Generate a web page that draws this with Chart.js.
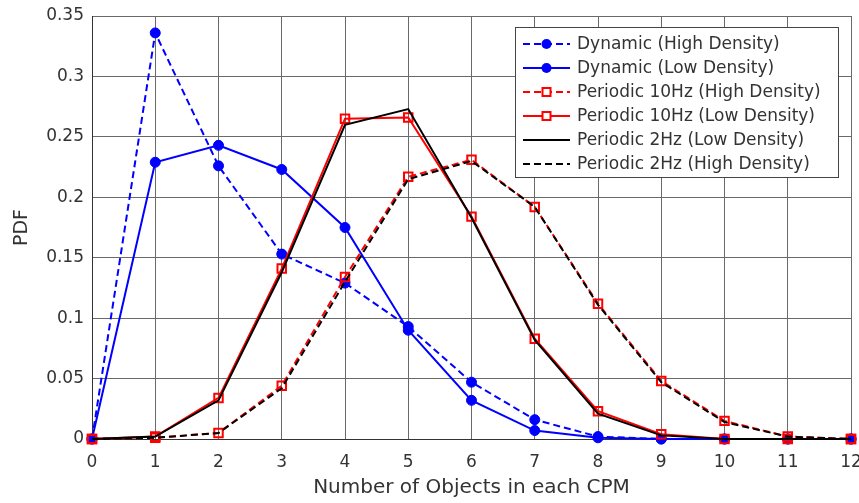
<!DOCTYPE html>
<html>
<head>
<meta charset="utf-8">
<script src="https://cdn.jsdelivr.net/npm/chart.js@4.4.1/dist/chart.umd.min.js"></script>
<style>
  body { margin: 0; background: #fff; }
</style>
</head>
<body>
<canvas id="pdfChart" width="859" height="503"></canvas>
<script>
// number of objects in each CPM (x axis)
const objects = ['0', '1', '2', '3', '4', '5', '6', '7', '8', '9', '10', '11', '12'];

// PDF values
const dynamicHigh = [0, 0.336, 0.226, 0.153, 0.129, 0.093, 0.047, 0.016, 0.002, 0, 0, 0, 0];
const dynamicLow = [0, 0.229, 0.243, 0.223, 0.175, 0.090, 0.032, 0.007, 0.001, 0, 0, 0, 0];
const periodic10High = [0, 0.001, 0.005, 0.044, 0.134, 0.217, 0.231, 0.192, 0.112, 0.048, 0.015, 0.002, 0];
const periodic10Low = [0, 0.002, 0.034, 0.141, 0.265, 0.266, 0.184, 0.083, 0.023, 0.004, 0, 0, 0];
const periodic2Low = [0, 0.002, 0.032, 0.138, 0.260, 0.273, 0.183, 0.082, 0.021, 0.003, 0, 0, 0];
const periodic2High = [0, 0.001, 0.005, 0.042, 0.130, 0.215, 0.230, 0.192, 0.111, 0.047, 0.014, 0.002, 0];

const yTickLabels = ['0', '0.05', '0.1', '0.15', '0.2', '0.25', '0.3', '0.35'];
const seriesNames = [
  'Dynamic (High Density)',
  'Dynamic (Low Density)',
  'Periodic 10Hz (High Density)',
  'Periodic 10Hz (Low Density)',
  'Periodic 2Hz (Low Density)',
  'Periodic 2Hz (High Density)'
];

const FONT = 'DejaVu Sans';
const TEXT = '#333333';
const DASH = [7, 4];

function series(i, values, color, dashed, marker) {
  const ds = {
    label: seriesNames[i],
    data: values,
    borderColor: color,
    borderWidth: 2,
    borderDash: dashed ? DASH : [],
    tension: 0,
    clip: false,
    order: 10 - i, // later series drawn on top, like the original
    pointRadius: 0,
    pointHoverRadius: 0
  };
  if (marker === 'circle') {
    ds.pointStyle = 'circle';
    ds.pointRadius = 5;
    ds.pointBackgroundColor = color;
    ds.pointBorderColor = color;
    ds.pointBorderWidth = 1;
  } else if (marker === 'square') {
    ds.pointStyle = 'rect';
    ds.pointRadius = 6;
    ds.pointBackgroundColor = 'rgba(0,0,0,0)';
    ds.pointBorderColor = color;
    ds.pointBorderWidth = 2;
  }
  ds.marker = marker;
  return ds;
}

const datasets = [
  series(0, dynamicHigh, '#0000ff', true, 'circle'),
  series(1, dynamicLow, '#0000ff', false, 'circle'),
  series(2, periodic10High, '#ff0000', true, 'square'),
  series(3, periodic10Low, '#ff0000', false, 'square'),
  series(4, periodic2Low, '#000000', false, null),
  series(5, periodic2High, '#000000', true, null)
];

// matlab style legend box in the upper right corner
const boxLegend = {
  id: 'boxLegend',
  afterDraw(chart) {
    const ctx = chart.ctx;
    const x0 = 515, y0 = 27, w = 323, h = 150;
    ctx.save();
    ctx.fillStyle = '#ffffff';
    ctx.fillRect(x0, y0, w, h);
    ctx.strokeStyle = '#444444';
    ctx.lineWidth = 1;
    ctx.strokeRect(x0 + 0.5, y0 + 0.5, w, h);
    ctx.font = '17px "' + FONT + '"';
    ctx.textBaseline = 'middle';
    datasets.forEach((ds, i) => {
      const y = y0 + 17 + i * 24;
      ctx.strokeStyle = ds.borderColor;
      ctx.lineWidth = 2;
      ctx.setLineDash(ds.borderDash);
      ctx.beginPath();
      ctx.moveTo(523, y);
      ctx.lineTo(570, y);
      ctx.stroke();
      ctx.setLineDash([]);
      if (ds.marker) {
        ctx.fillStyle = ds.marker === 'circle' ? ds.borderColor : '#ffffff';
        ctx.strokeStyle = ds.borderColor;
        ctx.lineWidth = ds.pointBorderWidth;
        ctx.beginPath();
        if (ds.marker === 'circle') {
          ctx.arc(546.5, y, 5, 0, Math.PI * 2);
          ctx.fill();
        } else {
          ctx.rect(542.5, y - 4, 8, 8);
          ctx.fill();
          ctx.stroke();
        }
      }
      ctx.fillStyle = TEXT;
      ctx.fillText(ds.label, 577, y + 1);
    });
    ctx.restore();
  }
};

new Chart(document.getElementById('pdfChart').getContext('2d'), {
  type: 'line',
  data: { labels: objects, datasets: datasets },
  options: {
    responsive: false,
    animation: false,
    events: [],
    layout: { padding: { top: 16, right: 8, left: 0, bottom: 0 } },
    plugins: { legend: { display: false }, tooltip: { enabled: false } },
    scales: {
      x: {
        offset: false,
        grid: { color: '#6a6a6a', drawTicks: false },
        border: { color: '#333333', width: 1 },
        ticks: { color: TEXT, font: { family: FONT, size: 17 }, padding: 13, maxRotation: 0, autoSkip: false },
        title: { display: true, text: 'Number of Objects in each CPM', color: TEXT, font: { family: FONT, size: 20 }, padding: { top: 2, bottom: 3 } },
        afterFit(s) { s.height = 64; s.paddingLeft = 0; s.paddingRight = 0; }
      },
      y: {
        min: 0,
        max: 0.35,
        grid: { color: '#6a6a6a', drawTicks: false },
        border: { color: '#333333', width: 1 },
        ticks: {
          stepSize: 0.05,
          color: TEXT,
          font: { family: FONT, size: 17 },
          padding: 8,
          callback: (v) => yTickLabels[Math.round(v / 0.05)]
        },
        title: { display: true, text: 'PDF', color: TEXT, font: { family: FONT, size: 19 }, padding: { top: 11, bottom: 0 } },
        afterFit(s) { s.width = 92; s.paddingTop = 0; s.paddingBottom = 0; }
      }
    }
  },
  plugins: [boxLegend]
});
</script>
</body>
</html>
